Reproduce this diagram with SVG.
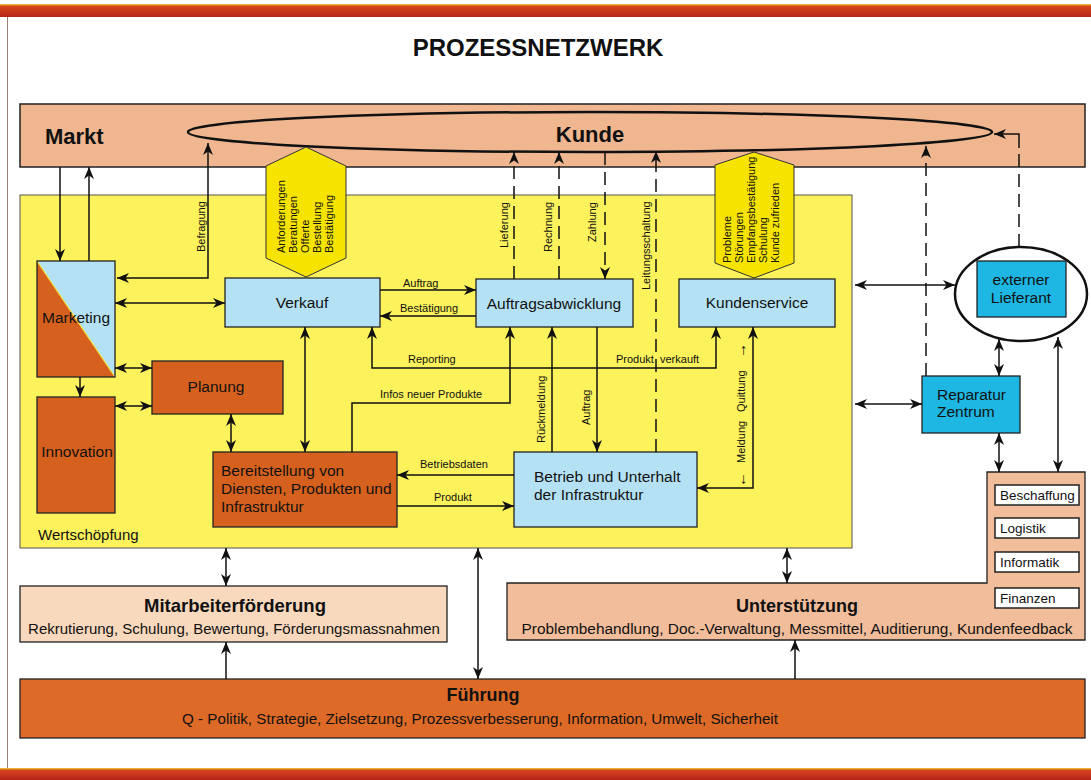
<svg xmlns="http://www.w3.org/2000/svg" width="1091" height="780" viewBox="0 0 1091 780">
<defs>
<marker id="ah" viewBox="0 0 12 10" refX="12" refY="5" markerWidth="12" markerHeight="10" markerUnits="userSpaceOnUse" orient="auto-start-reverse">
<path d="M0,0 L12,5 L0,10 L3.5,5 Z" fill="#111"/>
</marker>
<linearGradient id="band" x1="0" y1="0" x2="0" y2="1">
<stop offset="0" stop-color="#f3d33c"/>
<stop offset="0.18" stop-color="#d6461c"/>
<stop offset="1" stop-color="#b6241a"/>
</linearGradient>
</defs>
<style>
text{font-family:"Liberation Sans",Arial,Helvetica,sans-serif;fill:#111}
.box{stroke:#222;stroke-width:1.3}
.blue{fill:#b5e1f4}
.cyan{fill:#1eb6e2}
.orange{fill:#d6611e}
.hex{fill:#f6e400;stroke:#333;stroke-width:1}
.c{stroke:#111;stroke-width:1.5;fill:none}
.a2{marker-start:url(#ah);marker-end:url(#ah)}
.a1{marker-end:url(#ah)}
.d{stroke-dasharray:13 7}
.n{font-size:15.5px}
.s{font-size:11px}
.sb{font-size:13.5px}
.ar{font-size:15px}
.mid{text-anchor:middle}
.end{text-anchor:end}
.b{font-weight:bold}
</style>
<rect x="0" y="0" width="1091" height="780" fill="#ffffff"/>
<g id="frame">
<rect x="0" y="4" width="1091" height="13" fill="url(#band)"/>
<rect x="0" y="768" width="1091" height="12" fill="url(#band)"/>
<line x1="7.5" y1="17" x2="7.5" y2="768" stroke="#9a7f74" stroke-width="1"/>
<text x="538" y="56" class="mid b" font-size="24">PROZESSNETZWERK</text>
</g>
<g id="markt">
<rect x="20" y="104" width="1065" height="63" fill="#efb690" stroke="#222" stroke-width="1.5"/>
<text x="45" y="144" class="b" font-size="22">Markt</text>
</g>
<g id="kunde">
<ellipse cx="590" cy="132" rx="402" ry="20" fill="none" stroke="#111" stroke-width="2.5"/>
<text x="590" y="142" class="mid b" font-size="22">Kunde</text>
</g>
<g id="wertschoepfung">
<rect x="20" y="195" width="832" height="353" fill="#fbf25c" stroke="#555" stroke-width="1"/>
<text x="38" y="540" font-size="15">Wertschöpfung</text>
</g>
<g id="hex-anforderungen">
<polygon class="hex" points="306,147 346,166 346,258 306,277 266,258 266,166"/>
<text class="s" transform="translate(285,253) rotate(-90)">Anforderungen</text>
<text class="s" transform="translate(297,253) rotate(-90)">Beratungen</text>
<text class="s" transform="translate(309,253) rotate(-90)">Offerte</text>
<text class="s" transform="translate(321,253) rotate(-90)">Bestellung</text>
<text class="s" transform="translate(333,253) rotate(-90)">Bestätigung</text>
</g>
<g id="hex-probleme">
<polygon class="hex" points="754,152 794,165 794,263 754,278 715,263 715,165"/>
<text class="s" transform="translate(731,263) rotate(-90)">Probleme</text>
<text class="s" transform="translate(743,263) rotate(-90)">Störungen</text>
<text class="s" transform="translate(755,263) rotate(-90)">Empfangsbestätigung</text>
<text class="s" transform="translate(767,263) rotate(-90)">Schulung</text>
<text class="s" transform="translate(779,263) rotate(-90)">Kunde zufrieden</text>
</g>
<g id="marketing">
<rect x="37" y="261" width="78" height="116" class="blue"/>
<polygon points="37,261 37,377 115,377" class="orange"/>
<line x1="37" y1="261" x2="115" y2="377" stroke="#f5e640" stroke-width="1.2"/>
<rect x="37" y="261" width="78" height="116" fill="none" class="box"/>
<text x="76" y="323" class="n mid">Marketing</text>
</g>
<g id="innovation">
<rect x="37" y="397" width="78" height="116" class="box orange"/>
<text x="77" y="457" class="n mid">Innovation</text>
</g>
<g id="planung">
<rect x="152" y="361" width="131" height="53" class="box orange"/>
<text x="216" y="392" class="n mid">Planung</text>
</g>
<g id="verkauf">
<rect x="225" y="278" width="155" height="49" class="box blue"/>
<text x="302" y="308" class="n mid">Verkauf</text>
</g>
<g id="auftragsabwicklung">
<rect x="476" y="279" width="157" height="48" class="box blue"/>
<text x="554" y="309" class="n mid">Auftragsabwicklung</text>
</g>
<g id="kundenservice">
<rect x="679" y="279" width="156" height="48" class="box blue"/>
<text x="757" y="308" class="n mid">Kundenservice</text>
</g>
<g id="bereitstellung">
<rect x="213" y="452" width="184" height="75" class="box orange"/>
<text x="221" y="476" class="n">Bereitstellung von</text>
<text x="221" y="494" class="n">Diensten, Produkten und</text>
<text x="221" y="512" class="n">Infrastruktur</text>
</g>
<g id="betrieb">
<rect x="514" y="452" width="183" height="75" class="box blue"/>
<text x="534" y="482" class="n">Betrieb und Unterhalt</text>
<text x="534" y="500" class="n">der Infrastruktur</text>
</g>
<g id="reparatur">
<rect x="922" y="376" width="98" height="57" class="box cyan"/>
<text x="937" y="400" class="n">Reparatur</text>
<text x="937" y="417" class="n">Zentrum</text>
</g>
<g id="lieferant">
<ellipse cx="1021" cy="294" rx="66" ry="47" fill="#ffffff" stroke="#111" stroke-width="2.5"/>
<rect x="977" y="261" width="89" height="56" class="box cyan"/>
<text x="1021" y="285" class="n mid">externer</text>
<text x="1021" y="303" class="n mid">Lieferant</text>
</g>
<g id="unterstuetzung">
<path d="M507,583 H987 V472 H1085 V640 H507 Z" fill="#f2bd9b" stroke="#222" stroke-width="1.3"/>
<rect x="995" y="485" width="84" height="20" fill="#ffffff" stroke="#222" stroke-width="1.5"/>
<text x="1000" y="500" class="sb">Beschaffung</text>
<rect x="995" y="518" width="84" height="20" fill="#ffffff" stroke="#222" stroke-width="1.5"/>
<text x="1000" y="533" class="sb">Logistik</text>
<rect x="995" y="552" width="84" height="20" fill="#ffffff" stroke="#222" stroke-width="1.5"/>
<text x="1000" y="567" class="sb">Informatik</text>
<rect x="995" y="588" width="84" height="20" fill="#ffffff" stroke="#222" stroke-width="1.5"/>
<text x="1000" y="603" class="sb">Finanzen</text>
<text x="797" y="612" class="mid b" font-size="18">Unterstützung</text>
<text x="797" y="634" class="mid" font-size="15.4">Problembehandlung, Doc.-Verwaltung, Messmittel, Auditierung, Kundenfeedback</text>
</g>
<g id="mitarbeiterfoerderung">
<rect x="20" y="586" width="427" height="56" fill="#f8d9bd" stroke="#222" stroke-width="1.3"/>
<text x="235" y="612" class="mid b" font-size="18.5">Mitarbeiterförderung</text>
<text x="234" y="634" class="mid" font-size="15">Rekrutierung, Schulung, Bewertung, Förderungsmassnahmen</text>
</g>
<g id="fuehrung">
<rect x="20" y="679" width="1065" height="59" fill="#de6a28" stroke="#222" stroke-width="1.3"/>
<text x="483" y="701" class="mid b" font-size="18">Führung</text>
<text x="480" y="724" class="mid" font-size="15.2">Q - Politik, Strategie, Zielsetzung, Prozessverbesserung, Information, Umwelt, Sicherheit</text>
</g>
<g id="connectors">
<line class="c a1" x1="60" y1="167" x2="60" y2="261"/>
<line class="c a1" x1="89" y1="261" x2="89" y2="167"/>
<path class="c a2" d="M117,278 H208 V143"/>
<text class="s" transform="translate(205,252) rotate(-90)">Befragung</text>
<line class="c a2" x1="115" y1="303" x2="225" y2="303"/>
<line class="c a2" x1="115" y1="368" x2="152" y2="368"/>
<line class="c a2" x1="115" y1="406" x2="152" y2="406"/>
<line class="c a1" x1="80" y1="377" x2="80" y2="397"/>
<line class="c a2" x1="231" y1="414" x2="231" y2="452"/>
<line class="c a2" x1="305" y1="327" x2="305" y2="452"/>
<line class="c a1" x1="380" y1="290" x2="476" y2="290"/>
<text x="403" y="287" class="s">Auftrag</text>
<line class="c a1" x1="476" y1="316" x2="380" y2="316"/>
<text x="400" y="312" class="s">Bestätigung</text>
<path class="c a2" d="M372,327 V368 H716 V327"/>
<text x="408" y="363" class="s">Reporting</text>
<text x="616" y="363" class="s">Produkt</text>
<text x="660" y="363" class="s">verkauft</text>
<path class="c a1" d="M352,452 V403 H510 V327"/>
<text x="380" y="398" class="s">Infos neuer Produkte</text>
<line class="c a1" x1="597" y1="327" x2="597" y2="452"/>
<text class="s" transform="translate(590,425) rotate(-90)">Auftrag</text>
<line class="c a1" x1="552" y1="452" x2="552" y2="327"/>
<text class="s" transform="translate(545,443) rotate(-90)">Rückmeldung</text>
<line class="c a1" x1="514" y1="475" x2="397" y2="475"/>
<text x="420" y="468" class="s">Betriebsdaten</text>
<line class="c a1" x1="397" y1="506" x2="514" y2="506"/>
<text x="434" y="501" class="s">Produkt</text>
<path class="c a2" d="M697,488 H753 V327"/>
<text class="ar" transform="translate(746,487) rotate(-90)">←</text>
<text class="s" transform="translate(745,463) rotate(-90)">Meldung</text>
<text class="s" transform="translate(745,412) rotate(-90)">Quittung</text>
<text class="ar end" transform="translate(746,343) rotate(-90)">→</text>
<line class="c d a1" x1="514" y1="279" x2="514" y2="152"/>
<text class="s" transform="translate(508,248) rotate(-90)">Lieferung</text>
<line class="c d a1" x1="559" y1="279" x2="559" y2="152"/>
<text class="s" transform="translate(552,252) rotate(-90)">Rechnung</text>
<line class="c d a1" x1="605" y1="152" x2="605" y2="279"/>
<text class="s" transform="translate(596,242) rotate(-90)">Zahlung</text>
<line class="c d a1" x1="656" y1="452" x2="656" y2="151"/>
<text class="s" transform="translate(650,290) rotate(-90)">Leitungsschaltung</text>
<line class="c d a1" x1="926" y1="376" x2="926" y2="146"/>
<line class="c d" x1="1019" y1="247" x2="1019" y2="152"/>
<path class="c a1" d="M1019,148 V134 H994"/>
<line class="c a2" x1="855" y1="285" x2="955" y2="285"/>
<line class="c a2" x1="855" y1="404" x2="922" y2="404"/>
<line class="c a2" x1="999" y1="339" x2="999" y2="376"/>
<line class="c a2" x1="1058" y1="337" x2="1058" y2="472"/>
<line class="c a2" x1="999" y1="433" x2="999" y2="472"/>
<line class="c a2" x1="226" y1="548" x2="226" y2="586"/>
<line class="c a2" x1="478" y1="548" x2="478" y2="679"/>
<line class="c a1" x1="226" y1="679" x2="226" y2="642"/>
<line class="c a2" x1="787" y1="548" x2="787" y2="583"/>
<line class="c a1" x1="795" y1="679" x2="795" y2="640"/>
</g>
</svg>
